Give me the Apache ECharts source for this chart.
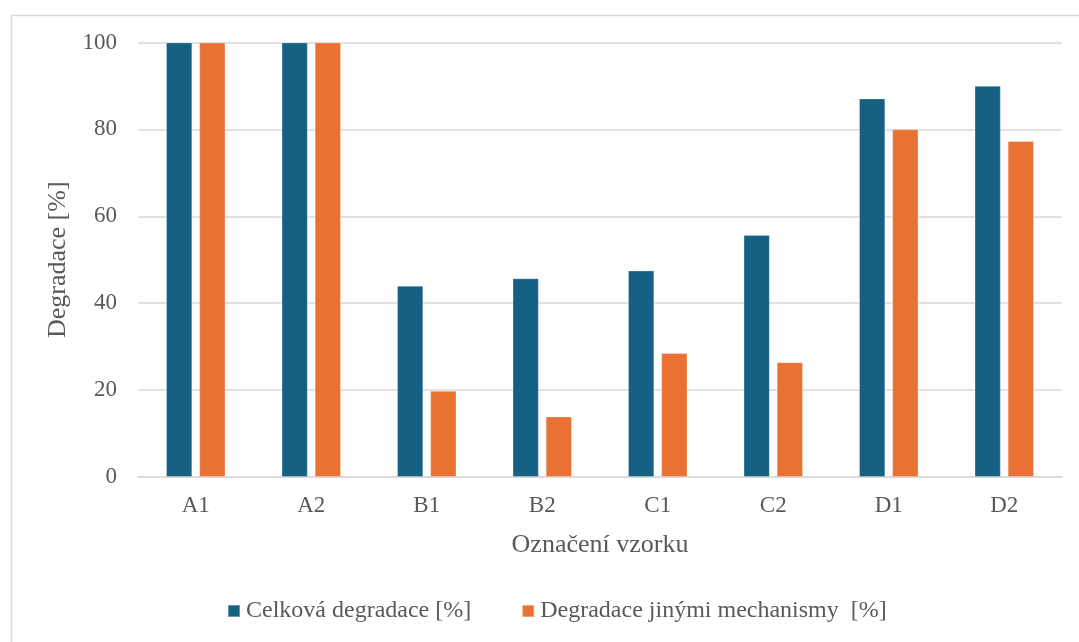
<!DOCTYPE html>
<html>
<head>
<meta charset="utf-8">
<script src="https://cdn.jsdelivr.net/npm/echarts@6/dist/echarts.min.js"></script>
<style>
  html, body { margin: 0; padding: 0; background: #fff; }
  #chart { width: 1079px; height: 642px; }
</style>
</head>
<body>
<div id="chart"></div>
<script>
// Sample labels and degradation values (%)
const categories = ['A1', 'A2', 'B1', 'B2', 'C1', 'C2', 'D1', 'D2'];
const totalDegradation = [100, 100, 44.0, 45.7, 47.5, 55.7, 87.1, 90.0];
const otherMechanisms = [100, 100, 19.8, 13.9, 28.5, 26.4, 80.0, 77.3];
const seriesNames = ['Celková degradace [%]', 'Degradace jinými mechanismy  [%]'];
const yTicks = { min: 0, max: 100, interval: 20 };

const FONT = '"Liberation Serif", "Times New Roman", serif';
const TEXT = '#595959';

const chart = echarts.init(document.getElementById('chart'), null, { renderer: 'canvas' });
chart.setOption({
  animation: false,
  backgroundColor: '#ffffff',
  graphic: [{
    type: 'rect',
    left: 9, top: 13,
    shape: { width: 1200, height: 800 },
    style: { fill: 'none', stroke: '#d9d9d9', lineWidth: 1.5 },
    z: -1
  }],
  grid: { left: 138, right: 17, top: 42.5, bottom: 165, containLabel: false },
  legend: {
    top: 599,
    left: 227,
    padding: 0,
    itemWidth: 12, itemHeight: 12, itemGap: 50,
    icon: 'rect',
    textStyle: { fontFamily: FONT, fontSize: 24, color: TEXT, padding: [0, 0, 0, 1] },
    data: seriesNames
  },
  xAxis: {
    type: 'category',
    data: categories,
    name: 'Označení vzorku',
    nameLocation: 'middle',
    nameGap: 55,
    nameTextStyle: { fontFamily: FONT, fontSize: 26, color: TEXT },
    axisLine: { lineStyle: { color: '#d9d9d9', width: 1.5 } },
    axisTick: { show: false },
    axisLabel: { fontFamily: FONT, fontSize: 23, color: TEXT, margin: 17 }
  },
  yAxis: {
    type: 'value',
    min: yTicks.min, max: yTicks.max, interval: yTicks.interval,
    name: 'Degradace [%]',
    nameLocation: 'middle',
    nameGap: 60,
    nameTextStyle: { fontFamily: FONT, fontSize: 26, color: TEXT },
    axisLine: { show: false },
    axisTick: { show: false },
    axisLabel: { fontFamily: FONT, fontSize: 23, color: TEXT, margin: 21 },
    splitLine: { lineStyle: { color: '#d9d9d9', width: 1.5 } }
  },
  series: [
    {
      name: seriesNames[0],
      type: 'bar',
      data: totalDegradation,
      barWidth: '22.6%',
      barGap: '27%',
      itemStyle: { color: '#166083', borderColor: 'rgba(255,255,255,0.35)', borderWidth: 0.8 }
    },
    {
      name: seriesNames[1],
      type: 'bar',
      data: otherMechanisms,
      barWidth: '22.6%',
      itemStyle: { color: '#E97132', borderColor: 'rgba(255,255,255,0.35)', borderWidth: 0.8 }
    }
  ]
});
</script>
</body>
</html>
